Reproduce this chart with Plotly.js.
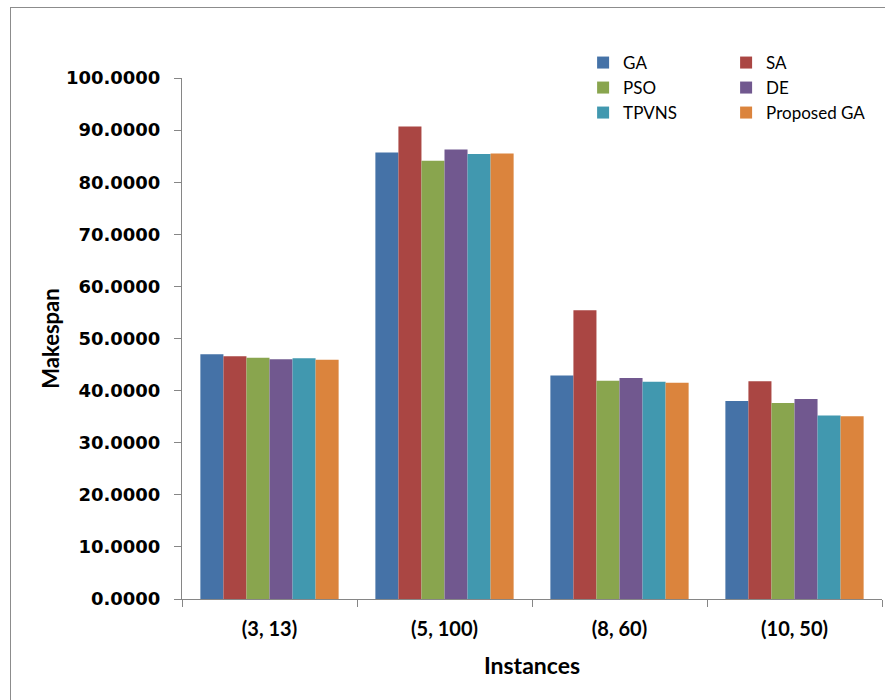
<!DOCTYPE html>
<html>
<head>
<meta charset="utf-8">
<script src="https://cdn.plot.ly/plotly-3.0.1.min.js"></script>
<style>
  html, body { margin: 0; padding: 0; background: #fff; }
  #frame { position: absolute; left: 10px; top: 7px; width: 900px; height: 720px; border: 1.5px solid #8c8c8c; box-sizing: border-box; }
  #chart { position: absolute; left: 0; top: 0; width: 885px; height: 700px; }
</style>
</head>
<body>
<div id="frame"></div>
<div id="chart"></div>
<script>
const categories = ["(3, 13)", "(5, 100)", "(8, 60)", "(10, 50)"];
const seriesNames = ["GA", "SA", "PSO", "DE", "TPVNS", "Proposed GA"];
const GA = [47.0, 85.7, 42.9, 38.0];
const SA = [46.6, 90.7, 55.4, 41.8];
const PSO = [46.3, 84.1, 41.9, 37.6];
const DE = [46.0, 86.3, 42.4, 38.4];
const TPVNS = [46.2, 85.4, 41.7, 35.2];
const ProposedGA = [45.9, 85.5, 41.5, 35.1];
const yTickValues = [0, 10, 20, 30, 40, 50, 60, 70, 80, 90, 100];

const seriesValues = [GA, SA, PSO, DE, TPVNS, ProposedGA];
const colors = ["#4572A7", "#AA4643", "#89A54E", "#71588F", "#4198AF", "#DB843D"];
const legendIds = ["legend", "legend", "legend2", "legend2", "legend3", "legend3"];

const traces = seriesNames.map((name, i) => ({
  type: "bar",
  name: name,
  x: categories,
  y: seriesValues[i],
  legend: legendIds[i],
  marker: { color: colors[i], line: { width: 0 } },
  hoverinfo: "x+y+name"
}));

const plotTop = 78, plotH = 521;
function legendRow(centerPx) {
  return {
    orientation: "h",
    x: 0.573, y: 1 + (plotTop - centerPx) / plotH, xanchor: "left", yanchor: "middle",
    entrywidth: 98, entrywidthmode: "pixels",
    font: { family: "Lato, sans-serif", size: 17, color: "#000" },
    bgcolor: "rgba(0,0,0,0)",
    traceorder: "normal"
  };
}

const layout = {
  width: 885,
  height: 700,
  paper_bgcolor: "rgba(0,0,0,0)",
  plot_bgcolor: "rgba(0,0,0,0)",
  margin: { l: 182, r: 3, t: 78, b: 101, pad: 0, autoexpand: false },
  barmode: "group",
  bargap: 0.21,
  bargroupgap: 0,
  showlegend: true,
  legend: legendRow(63),
  legend2: legendRow(88),
  legend3: legendRow(113),
  xaxis: {
    type: "category",
    tickson: "boundaries",
    ticks: "outside",
    ticklen: 7,
    tickcolor: "#868686",
    showline: true,
    linecolor: "#868686",
    linewidth: 1,
    showgrid: false,
    zeroline: false,
    ticklabelstandoff: 12,
    tickfont: { family: "Lato, sans-serif", size: 20, color: "#000", weight: "bold" },
    title: { text: "Instances", font: { family: "Lato, sans-serif", size: 23, color: "#000", weight: "bold" }, standoff: 18 }
  },
  yaxis: {
    range: [0, 100],
    tickvals: yTickValues,
    tickformat: ".4f",
    ticks: "outside",
    ticklen: 7,
    tickcolor: "#868686",
    showline: true,
    linecolor: "#868686",
    linewidth: 1,
    showgrid: false,
    zeroline: false,
    ticklabelstandoff: 10,
    tickfont: { family: "DejaVu Sans, sans-serif", size: 18, color: "#000", weight: "bold" },
    title: { text: "Makespan", font: { family: "Lato, sans-serif", size: 22, color: "#000", weight: "bold" }, standoff: 0 }
  }
};

Plotly.newPlot("chart", traces, layout, { displayModeBar: false, responsive: false });
</script>
</body>
</html>
